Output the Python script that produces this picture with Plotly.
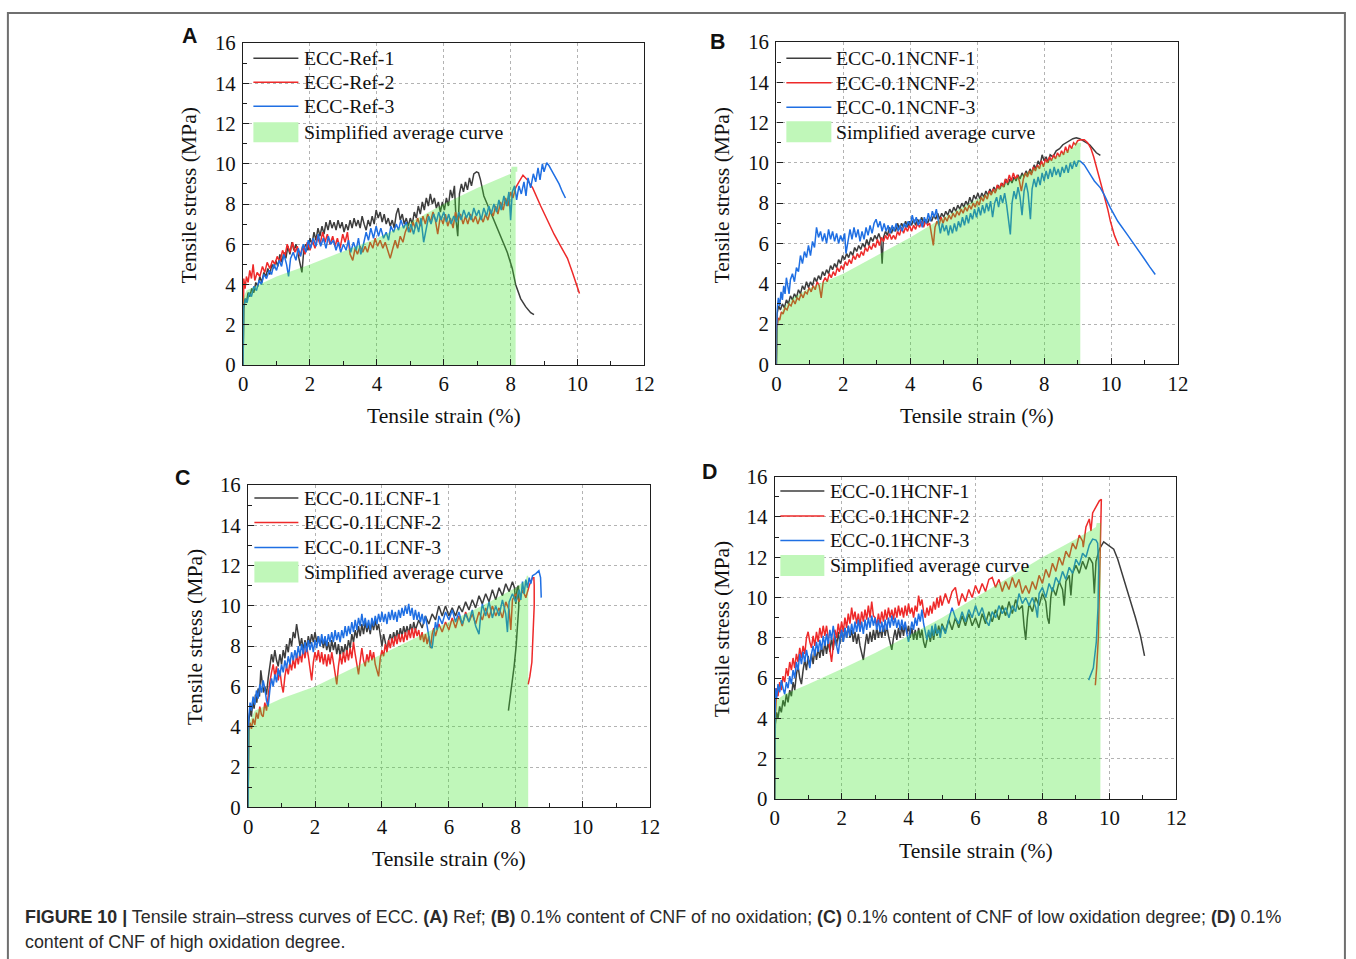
import plotly.graph_objects as go

W, H = 1356, 959

# ---------------- data (strain %, stress MPa) ----------------
A_REF1 = [(0,0),(0.02,2.8),(0.06,3.3),(0.1,3.1),(0.15,3.6),(0.2,3.4),(0.26,3.8),(0.32,3.6),(0.38,4.1),(0.44,3.9),(0.5,4.4),(0.56,4.1),(0.62,4.6),(0.68,4.4),(0.74,4.8),(0.8,4.5),(0.86,5.0),(0.92,4.8),(0.98,5.2),(1.04,4.9),(1.1,5.5),(1.16,5.1),(1.22,5.6),(1.28,5.3),(1.34,5.9),(1.4,5.5),(1.46,6.1),(1.52,5.7),(1.58,6.0),(1.64,5.5),(1.7,5.1),(1.76,4.6),(1.82,5.8),(1.88,6.0),(1.94,5.7),(2.0,6.3),(2.06,6.0),(2.12,6.6),(2.18,6.2),(2.24,6.8),(2.3,6.4),(2.36,6.9),(2.42,6.5),(2.48,7.1),(2.54,6.7),(2.6,7.2),(2.66,6.8),(2.72,7.1),(2.78,6.7),(2.84,7.2),(2.9,6.8),(2.96,7.1),(3.02,6.6),(3.08,7.0),(3.14,6.7),(3.2,7.2),(3.26,6.8),(3.32,7.3),(3.38,6.9),(3.44,7.2),(3.5,6.8),(3.56,7.4),(3.62,7.0),(3.68,6.7),(3.74,7.2),(3.8,6.9),(3.86,7.4),(3.92,7.0),(3.98,7.7),(4.04,7.3),(4.1,7.6),(4.16,7.1),(4.22,7.5),(4.28,7.0),(4.34,7.3),(4.4,6.9),(4.46,7.2),(4.52,6.8),(4.58,7.5),(4.64,7.8),(4.7,7.2),(4.76,7.5),(4.82,7.0),(4.88,7.3),(4.94,6.9),(5.0,7.3),(5.06,7.0),(5.12,7.6),(5.18,7.3),(5.24,7.9),(5.3,7.5),(5.36,8.1),(5.42,7.7),(5.48,8.3),(5.54,7.9),(5.6,8.5),(5.66,8.0),(5.72,8.3),(5.78,7.8),(5.84,8.1),(5.9,7.6),(5.96,8.1),(6.02,7.7),(6.08,8.3),(6.14,7.9),(6.2,8.7),(6.26,8.3),(6.32,8.9),(6.37,7.2),(6.42,6.4),(6.47,8.5),(6.53,9.0),(6.59,8.6),(6.65,9.1),(6.71,8.7),(6.77,9.3),(6.83,8.9),(6.9,9.5),(6.98,9.6),(7.04,9.55),(7.1,9.2),(7.2,8.4),(7.3,8.0),(7.5,7.2),(7.7,6.4),(7.9,5.6),(8.05,4.8),(8.15,4.0),(8.3,3.3),(8.45,2.9),(8.6,2.6),(8.7,2.5)]
A_REF2 = [(0,0),(0.02,4.3),(0.06,3.8),(0.1,4.4),(0.15,4.1),(0.2,4.7),(0.25,4.3),(0.3,5.0),(0.35,4.2),(0.42,4.6),(0.5,4.4),(0.58,4.9),(0.65,4.6),(0.72,5.1),(0.8,4.8),(0.88,5.2),(0.95,5.0),(1.02,5.4),(1.1,5.1),(1.18,5.7),(1.25,5.4),(1.32,6.0),(1.4,5.6),(1.48,6.1),(1.55,5.6),(1.62,5.9),(1.7,5.4),(1.78,5.9),(1.85,5.5),(1.92,6.1),(2.0,5.7),(2.07,6.2),(2.15,5.8),(2.22,6.4),(2.3,6.0),(2.38,6.6),(2.45,6.1),(2.52,6.5),(2.6,6.0),(2.68,6.4),(2.75,5.9),(2.82,6.3),(2.9,5.8),(2.98,6.5),(3.05,6.1),(3.12,6.6),(3.2,5.5),(3.28,5.2),(3.35,5.8),(3.42,5.5),(3.5,5.9),(3.58,5.6),(3.65,5.9),(3.72,5.6),(3.8,6.1),(3.88,5.8),(3.95,6.3),(4.02,5.9),(4.1,6.2),(4.18,5.8),(4.25,6.1),(4.33,5.6),(4.4,5.3),(4.48,5.8),(4.55,6.2),(4.62,5.8),(4.7,6.4),(4.78,6.1),(4.85,6.6),(4.92,6.9),(5.0,6.6),(5.08,7.1),(5.15,6.8),(5.22,7.3),(5.3,6.9),(5.38,7.4),(5.45,7.0),(5.52,7.5),(5.6,7.1),(5.68,7.6),(5.75,7.2),(5.82,6.5),(5.9,7.4),(5.98,7.0),(6.05,7.5),(6.12,6.9),(6.2,7.3),(6.28,6.8),(6.35,7.6),(6.42,7.2),(6.5,7.5),(6.58,7.0),(6.65,7.4),(6.72,7.0),(6.8,7.5),(6.88,7.1),(6.95,7.4),(7.02,7.0),(7.1,7.4),(7.18,7.1),(7.25,7.5),(7.32,7.2),(7.4,7.7),(7.48,7.4),(7.55,7.9),(7.62,7.5),(7.7,8.1),(7.78,7.7),(7.85,8.3),(7.92,7.9),(8.0,8.6),(8.07,8.3),(8.15,8.8),(8.25,9.1),(8.37,9.43),(8.5,9.2),(8.66,8.8),(8.9,7.9),(9.1,7.2),(9.3,6.5),(9.5,5.9),(9.7,5.3),(9.85,4.6),(10.0,3.9),(10.06,3.55)]
A_REF3 = [(0,0),(0.02,2.9),(0.07,3.3),(0.12,3.1),(0.18,3.6),(0.25,3.4),(0.32,3.9),(0.4,3.7),(0.48,4.2),(0.55,4.0),(0.62,4.5),(0.7,4.3),(0.78,4.7),(0.85,4.5),(0.92,5.0),(1.0,4.7),(1.08,5.2),(1.15,4.9),(1.22,5.5),(1.3,5.0),(1.36,4.4),(1.42,5.3),(1.5,5.6),(1.58,5.2),(1.65,5.8),(1.72,5.4),(1.8,6.0),(1.88,5.6),(1.95,6.2),(2.02,5.8),(2.1,6.3),(2.18,5.9),(2.25,6.5),(2.32,5.9),(2.4,6.3),(2.48,5.8),(2.55,6.4),(2.62,6.0),(2.7,6.2),(2.78,5.7),(2.85,6.1),(2.92,5.6),(3.0,6.0),(3.08,5.7),(3.15,6.2),(3.22,5.6),(3.3,6.1),(3.38,5.7),(3.45,6.3),(3.52,5.5),(3.6,6.0),(3.68,6.6),(3.75,6.2),(3.82,6.8),(3.9,6.3),(3.98,6.9),(4.05,6.4),(4.12,6.8),(4.2,6.3),(4.28,6.6),(4.35,6.2),(4.42,6.9),(4.5,6.6),(4.58,7.0),(4.65,6.7),(4.72,7.2),(4.8,6.8),(4.88,7.1),(4.95,6.6),(5.02,7.0),(5.1,6.5),(5.18,7.1),(5.25,6.6),(5.32,7.3),(5.4,6.1),(5.48,6.9),(5.55,7.4),(5.62,7.0),(5.7,7.5),(5.78,7.1),(5.85,7.6),(5.92,7.2),(6.0,7.6),(6.08,7.1),(6.15,7.5),(6.22,7.0),(6.3,7.4),(6.38,7.1),(6.45,7.6),(6.52,7.2),(6.6,7.7),(6.68,7.3),(6.75,7.6),(6.82,7.2),(6.9,7.8),(6.98,7.4),(7.05,7.7),(7.12,7.2),(7.2,7.8),(7.28,7.4),(7.35,7.9),(7.42,7.5),(7.5,8.0),(7.58,7.6),(7.65,8.2),(7.72,7.7),(7.8,8.4),(7.88,7.9),(7.95,8.6),(8.0,7.2),(8.05,8.6),(8.12,8.9),(8.18,8.2),(8.25,8.9),(8.32,8.5),(8.4,9.1),(8.46,8.4),(8.52,9.3),(8.6,8.8),(8.68,9.5),(8.75,9.1),(8.82,9.8),(8.88,9.2),(8.95,10.0),(9.0,9.6),(9.08,10.05),(9.15,9.9),(9.25,9.6),(9.35,9.3),(9.45,9.0),(9.55,8.6),(9.64,8.3)]
A_AVG = [(0,0),(0,3.3),(0.1,3.7),(0.5,4.0),(1,4.4),(2,5.0),(3,5.65),(4,6.3),(5,7.1),(6,8.0),(7,8.8),(8,9.5),(8.03,9.85),(8.2,9.85),(8.2,9.6),(8.15,9.6),(8.15,0)]

B_N1 = [(0,0),(0.02,2.5),(0.07,2.9),(0.12,2.7),(0.18,3.0),(0.24,2.8),(0.3,3.2),(0.36,3.0),(0.42,3.4),(0.48,3.2),(0.54,3.5),(0.6,3.3),(0.66,3.7),(0.72,3.5),(0.78,3.9),(0.84,3.7),(0.9,4.1),(0.96,3.8),(1.02,4.1),(1.08,3.9),(1.14,4.3),(1.2,4.1),(1.26,4.4),(1.32,4.2),(1.38,4.6),(1.44,4.4),(1.5,4.7),(1.56,4.5),(1.62,4.9),(1.68,4.7),(1.74,5.0),(1.8,4.8),(1.86,5.2),(1.92,5.0),(1.98,5.4),(2.04,5.2),(2.1,5.5),(2.16,5.3),(2.22,5.6),(2.28,5.4),(2.34,5.8),(2.4,5.6),(2.46,5.9),(2.52,5.7),(2.58,6.0),(2.64,5.8),(2.7,6.2),(2.76,5.9),(2.82,6.3),(2.88,6.1),(2.94,6.4),(3.0,6.2),(3.06,6.5),(3.12,6.2),(3.16,5.0),(3.2,6.3),(3.26,6.6),(3.32,6.4),(3.38,6.8),(3.44,6.5),(3.5,6.8),(3.56,6.6),(3.62,7.0),(3.68,6.7),(3.74,7.0),(3.8,6.8),(3.86,7.1),(3.92,6.8),(3.98,7.1),(4.04,6.9),(4.1,7.2),(4.16,6.9),(4.22,7.2),(4.28,7.0),(4.34,7.3),(4.4,7.0),(4.46,7.2),(4.52,7.0),(4.58,7.3),(4.64,7.1),(4.7,7.4),(4.76,7.2),(4.82,7.5),(4.88,7.2),(4.94,7.5),(5.0,7.3),(5.06,7.6),(5.12,7.4),(5.18,7.7),(5.24,7.5),(5.3,7.8),(5.36,7.6),(5.42,7.9),(5.48,7.7),(5.54,8.0),(5.6,7.8),(5.66,8.1),(5.72,7.9),(5.78,8.3),(5.84,8.0),(5.9,8.4),(5.96,8.2),(6.02,8.5),(6.08,8.2),(6.14,8.5),(6.2,8.3),(6.26,8.6),(6.32,8.4),(6.38,8.7),(6.44,8.5),(6.5,8.8),(6.56,8.6),(6.62,8.9),(6.68,8.7),(6.74,9.0),(6.8,8.8),(6.86,9.2),(6.92,8.9),(6.98,9.2),(7.04,9.0),(7.1,9.3),(7.16,9.1),(7.22,9.4),(7.28,9.2),(7.34,9.5),(7.4,9.3),(7.46,9.6),(7.52,9.4),(7.58,9.7),(7.64,9.5),(7.7,9.9),(7.76,9.7),(7.82,10.1),(7.88,9.9),(7.94,10.4),(8.0,10.1),(8.06,10.3),(8.12,10.0),(8.18,10.4),(8.26,10.3),(8.36,10.6),(8.46,10.7),(8.56,10.9),(8.66,11.0),(8.76,11.1),(8.86,11.2),(8.96,11.25),(9.06,11.2),(9.16,11.1),(9.26,11.0),(9.36,10.9),(9.46,10.7),(9.56,10.5),(9.68,10.37)]
B_N2 = [(0,0),(0.02,1.8),(0.06,2.3),(0.1,2.2),(0.15,2.6),(0.2,2.5),(0.26,2.8),(0.32,2.7),(0.38,3.0),(0.44,2.9),(0.5,3.2),(0.56,3.0),(0.62,3.3),(0.68,3.2),(0.74,3.5),(0.8,3.3),(0.86,3.6),(0.92,3.5),(0.98,3.8),(1.04,3.6),(1.1,3.9),(1.16,3.7),(1.22,4.1),(1.28,3.9),(1.34,3.3),(1.4,4.1),(1.46,4.3),(1.52,4.1),(1.58,4.5),(1.64,4.3),(1.7,4.6),(1.76,4.4),(1.82,4.8),(1.88,4.6),(1.94,4.9),(2.0,4.7),(2.06,5.1),(2.12,4.9),(2.18,5.2),(2.24,5.0),(2.3,5.4),(2.36,5.2),(2.42,5.5),(2.48,5.3),(2.54,5.6),(2.6,5.4),(2.66,5.8),(2.72,5.6),(2.78,5.9),(2.84,5.7),(2.9,6.0),(2.96,5.8),(3.02,6.2),(3.08,5.9),(3.14,6.3),(3.2,6.1),(3.26,6.4),(3.32,6.2),(3.38,6.5),(3.44,6.2),(3.5,6.4),(3.56,6.2),(3.62,6.6),(3.68,6.4),(3.74,6.8),(3.8,6.5),(3.86,6.8),(3.92,6.6),(3.98,6.9),(4.04,6.6),(4.1,6.9),(4.16,6.7),(4.22,7.0),(4.28,6.8),(4.34,7.1),(4.4,6.8),(4.46,7.1),(4.52,6.9),(4.58,7.0),(4.64,6.4),(4.69,5.9),(4.74,6.8),(4.8,7.1),(4.86,6.9),(4.92,7.3),(4.98,7.0),(5.04,7.3),(5.1,7.1),(5.16,7.4),(5.22,7.2),(5.28,7.5),(5.34,7.3),(5.4,7.6),(5.46,7.4),(5.52,7.7),(5.58,7.5),(5.64,7.8),(5.7,7.6),(5.76,7.9),(5.82,7.7),(5.88,8.0),(5.94,7.8),(6.0,8.1),(6.06,7.9),(6.12,8.3),(6.18,8.1),(6.24,8.4),(6.3,8.2),(6.36,8.6),(6.42,8.4),(6.48,8.7),(6.54,8.5),(6.6,8.9),(6.66,8.7),(6.72,9.0),(6.78,8.8),(6.84,9.2),(6.9,9.0),(6.96,9.4),(7.02,9.1),(7.08,9.5),(7.14,9.2),(7.2,9.4),(7.26,9.1),(7.32,8.6),(7.38,9.2),(7.44,9.5),(7.5,9.3),(7.56,9.6),(7.62,9.4),(7.68,9.8),(7.74,9.6),(7.8,9.9),(7.86,9.7),(7.92,10.1),(7.98,9.8),(8.04,10.2),(8.1,10.0),(8.16,10.3),(8.22,10.1),(8.28,10.4),(8.34,10.2),(8.4,10.5),(8.46,10.3),(8.52,10.6),(8.58,10.4),(8.64,10.8),(8.7,10.5),(8.76,10.9),(8.82,10.7),(8.88,11.0),(8.94,10.9),(9.0,11.1),(9.1,11.15),(9.2,11.15),(9.3,11.0),(9.4,10.7),(9.48,10.3),(9.6,9.6),(9.7,8.9),(9.78,8.45),(9.9,7.7),(9.98,7.1),(10.1,6.4),(10.23,5.87)]
B_N3 = [(0,0),(0.02,2.7),(0.06,3.3),(0.1,2.9),(0.14,3.6),(0.18,3.2),(0.22,3.9),(0.26,3.5),(0.3,4.3),(0.34,3.9),(0.38,3.5),(0.42,4.2),(0.48,4.5),(0.54,4.1),(0.6,4.8),(0.66,4.6),(0.72,5.4),(0.78,5.0),(0.84,5.6),(0.9,5.3),(0.96,5.9),(1.02,5.4),(1.08,6.1),(1.14,5.8),(1.2,6.8),(1.26,6.3),(1.32,6.6),(1.38,6.1),(1.44,6.5),(1.5,6.0),(1.56,6.7),(1.62,6.2),(1.68,6.6),(1.74,6.1),(1.8,6.5),(1.86,6.0),(1.92,6.4),(1.98,6.1),(2.04,6.5),(2.08,5.5),(2.14,6.2),(2.2,6.7),(2.26,6.2),(2.32,6.8),(2.38,6.3),(2.44,6.7),(2.5,6.1),(2.56,6.6),(2.62,6.2),(2.68,6.8),(2.74,6.4),(2.8,6.9),(2.86,6.5),(2.92,7.0),(2.98,7.2),(3.04,6.8),(3.1,7.1),(3.16,6.6),(3.22,7.0),(3.28,6.6),(3.34,6.9),(3.4,6.5),(3.46,6.9),(3.52,6.6),(3.58,7.0),(3.64,6.6),(3.7,6.9),(3.76,6.6),(3.82,7.0),(3.88,6.8),(3.94,7.1),(4.0,6.9),(4.06,7.4),(4.12,7.0),(4.18,7.3),(4.24,6.9),(4.3,7.2),(4.36,6.8),(4.42,7.3),(4.48,7.0),(4.54,7.5),(4.6,7.1),(4.66,7.6),(4.72,7.3),(4.78,7.7),(4.84,7.0),(4.9,6.5),(4.96,7.0),(5.02,6.6),(5.08,6.9),(5.14,6.4),(5.2,6.9),(5.26,6.5),(5.32,7.0),(5.38,6.6),(5.44,7.1),(5.5,6.8),(5.56,7.3),(5.62,6.9),(5.68,7.4),(5.74,7.0),(5.8,7.5),(5.86,7.2),(5.92,7.7),(5.98,7.3),(6.04,7.8),(6.1,7.4),(6.16,7.9),(6.22,7.5),(6.28,8.0),(6.34,7.6),(6.4,8.1),(6.46,7.3),(6.52,8.0),(6.58,8.3),(6.64,7.8),(6.7,8.4),(6.76,8.0),(6.82,8.5),(6.88,7.9),(6.94,7.0),(6.99,6.45),(7.04,8.0),(7.1,8.6),(7.16,8.2),(7.22,8.8),(7.28,8.3),(7.34,7.4),(7.4,8.6),(7.46,9.0),(7.52,8.5),(7.56,7.8),(7.59,7.2),(7.64,8.7),(7.7,9.2),(7.76,8.8),(7.82,9.3),(7.88,8.9),(7.94,9.5),(8.0,9.1),(8.06,9.6),(8.12,9.2),(8.18,9.7),(8.24,9.3),(8.3,9.8),(8.36,9.4),(8.42,9.7),(8.48,9.3),(8.54,9.8),(8.6,9.5),(8.66,9.9),(8.72,9.5),(8.78,10.0),(8.84,9.7),(8.9,10.1),(8.96,9.8),(9.02,10.1),(9.08,10.08),(9.2,9.9),(9.38,9.42),(9.5,9.1),(9.68,8.76),(9.8,8.4),(9.98,7.77),(10.2,7.1),(10.48,6.45),(10.7,5.9),(10.97,5.29),(11.15,4.85),(11.32,4.46)]
B_AVG = [(0,0),(0,1.5),(0.05,2.2),(0.2,2.8),(0.5,3.3),(1,3.8),(2,4.5),(3,5.4),(4,6.3),(5,7.3),(6,8.2),(7,9.1),(8,10.0),(8.9,10.8),(8.92,11.0),(9.1,11.0),(9.1,10.8),(9.08,10.8),(9.08,0)]

C_L1 = [(0,0),(0.02,4.2),(0.06,4.9),(0.1,4.5),(0.14,5.3),(0.18,4.9),(0.22,5.6),(0.26,5.2),(0.3,5.9),(0.34,5.5),(0.38,6.8),(0.42,6.2),(0.46,5.7),(0.5,6.0),(0.55,5.6),(0.6,6.4),(0.65,7.0),(0.7,7.6),(0.75,7.2),(0.8,7.8),(0.85,7.3),(0.9,7.0),(0.95,7.6),(1.0,7.1),(1.05,7.8),(1.1,7.4),(1.15,8.1),(1.2,7.7),(1.25,8.4),(1.3,8.0),(1.35,8.7),(1.4,8.4),(1.45,9.1),(1.5,8.6),(1.55,8.0),(1.6,8.4),(1.65,7.8),(1.7,8.3),(1.75,7.9),(1.8,8.5),(1.85,8.1),(1.9,8.6),(1.95,8.2),(2.0,8.7),(2.05,8.2),(2.1,8.5),(2.15,8.0),(2.2,8.4),(2.25,7.9),(2.3,8.3),(2.35,7.8),(2.4,8.2),(2.45,7.7),(2.5,8.3),(2.55,7.8),(2.6,8.2),(2.65,7.6),(2.7,8.1),(2.75,7.5),(2.8,8.0),(2.85,7.6),(2.9,8.1),(2.95,7.7),(3.0,8.3),(3.05,7.9),(3.1,8.6),(3.15,8.2),(3.2,8.8),(3.25,8.4),(3.3,9.0),(3.35,8.5),(3.4,9.1),(3.45,8.6),(3.5,9.2),(3.55,8.7),(3.6,9.1),(3.65,8.6),(3.7,9.2),(3.75,8.8),(3.8,9.3),(3.85,8.8),(3.9,9.1),(3.95,8.5),(4.0,8.0),(4.05,8.6),(4.1,8.2),(4.15,7.8),(4.2,8.3),(4.25,8.6),(4.3,8.2),(4.35,8.7),(4.4,8.3),(4.45,8.8),(4.5,8.4),(4.55,8.9),(4.6,8.5),(4.65,9.0),(4.7,8.6),(4.75,9.0),(4.8,8.6),(4.85,9.1),(4.9,8.7),(4.95,9.2),(5.0,8.8),(5.1,9.3),(5.2,8.9),(5.3,9.5),(5.4,9.1),(5.5,9.6),(5.6,9.3),(5.7,10.0),(5.8,9.5),(5.9,10.0),(6.0,9.5),(6.1,9.9),(6.2,9.5),(6.3,10.0),(6.4,9.7),(6.5,10.2),(6.6,9.8),(6.7,10.3),(6.8,9.9),(6.9,10.5),(7.0,10.1),(7.1,10.6),(7.2,10.2),(7.3,10.8),(7.4,10.3),(7.5,10.9),(7.6,10.5),(7.7,11.1),(7.8,10.7),(7.9,11.2),(7.96,10.9),(8.0,10.1),(8.04,10.9),(8.08,11.0),(8.09,10.0),(8.06,9.0),(8.01,8.0),(7.95,7.0),(7.88,6.0),(7.78,4.8)]
C_L2 = [(0,0),(0.02,3.8),(0.06,4.2),(0.1,3.9),(0.15,4.4),(0.2,4.1),(0.25,4.7),(0.3,4.4),(0.35,5.0),(0.4,4.6),(0.45,4.5),(0.5,5.2),(0.55,4.8),(0.6,5.6),(0.65,6.2),(0.7,6.7),(0.75,7.1),(0.8,6.5),(0.85,7.0),(0.9,6.3),(0.95,6.8),(1.0,6.1),(1.05,5.7),(1.1,6.5),(1.15,7.0),(1.2,6.6),(1.25,7.2),(1.3,6.8),(1.35,7.4),(1.4,6.9),(1.45,7.6),(1.5,7.1),(1.55,7.7),(1.6,7.2),(1.65,7.9),(1.7,7.4),(1.75,8.0),(1.8,7.5),(1.85,6.9),(1.9,6.3),(1.95,7.2),(2.0,7.7),(2.05,7.3),(2.1,7.8),(2.15,7.2),(2.2,7.7),(2.25,7.1),(2.3,7.6),(2.35,7.0),(2.4,7.6),(2.45,7.1),(2.5,7.7),(2.55,7.2),(2.6,6.5),(2.65,6.1),(2.7,7.0),(2.75,7.6),(2.8,7.1),(2.85,7.7),(2.9,7.2),(2.95,7.8),(3.0,7.3),(3.05,7.9),(3.1,7.4),(3.15,8.2),(3.2,7.6),(3.25,7.1),(3.3,6.6),(3.35,7.3),(3.4,7.9),(3.45,7.3),(3.5,7.0),(3.55,7.6),(3.6,7.2),(3.65,7.8),(3.7,7.3),(3.75,7.7),(3.8,7.1),(3.85,6.8),(3.9,6.5),(3.95,7.4),(4.0,7.8),(4.05,7.5),(4.1,8.1),(4.15,7.7),(4.2,8.3),(4.25,7.9),(4.3,8.4),(4.35,8.0),(4.4,8.5),(4.45,8.1),(4.5,8.6),(4.55,8.2),(4.6,8.6),(4.65,8.2),(4.7,8.7),(4.75,8.3),(4.8,8.8),(4.85,8.4),(4.9,8.9),(4.95,8.4),(5.0,8.9),(5.05,8.5),(5.1,8.8),(5.15,8.3),(5.2,8.7),(5.25,8.2),(5.3,8.6),(5.35,8.1),(5.4,8.5),(5.45,7.9),(5.5,8.6),(5.55,8.9),(5.6,8.5),(5.7,9.1),(5.8,8.7),(5.9,9.2),(6.0,8.8),(6.1,9.4),(6.2,8.9),(6.3,9.5),(6.4,9.0),(6.5,9.7),(6.6,9.2),(6.7,9.6),(6.8,9.1),(6.9,9.7),(7.0,9.3),(7.1,9.9),(7.2,9.4),(7.3,10.0),(7.4,9.5),(7.5,9.9),(7.6,9.4),(7.7,10.2),(7.8,9.8),(7.85,8.8),(7.9,10.3),(8.0,10.6),(8.1,10.2),(8.2,10.8),(8.3,10.4),(8.4,11.0),(8.45,11.2),(8.5,11.4),(8.54,11.4),(8.55,11.0),(8.55,10.0),(8.52,8.5),(8.48,7.2),(8.42,6.5),(8.37,6.1)]
C_L3 = [(0,0),(0.02,4.5),(0.06,5.2),(0.1,4.8),(0.15,5.5),(0.2,5.1),(0.25,5.8),(0.3,5.4),(0.35,6.1),(0.4,5.7),(0.45,6.3),(0.5,5.9),(0.55,5.3),(0.6,5.0),(0.65,5.8),(0.7,6.4),(0.75,6.0),(0.8,6.6),(0.85,6.2),(0.9,6.9),(0.95,6.5),(1.0,7.1),(1.05,6.7),(1.1,7.3),(1.15,6.9),(1.2,7.5),(1.25,7.1),(1.3,7.7),(1.35,7.3),(1.4,7.8),(1.45,7.4),(1.5,8.0),(1.55,7.5),(1.6,8.1),(1.65,7.6),(1.7,8.2),(1.75,7.7),(1.8,8.3),(1.85,7.8),(1.9,8.2),(1.95,7.7),(2.0,8.3),(2.05,7.9),(2.1,8.5),(2.15,8.0),(2.2,8.6),(2.25,8.1),(2.3,8.5),(2.35,8.0),(2.4,8.6),(2.45,8.2),(2.5,8.7),(2.55,8.2),(2.6,8.8),(2.65,8.3),(2.7,8.7),(2.75,8.2),(2.8,8.8),(2.85,8.4),(2.9,9.0),(2.95,8.5),(3.0,9.0),(3.05,8.6),(3.1,9.2),(3.15,8.7),(3.2,9.3),(3.25,8.8),(3.3,9.4),(3.35,9.0),(3.4,9.6),(3.45,9.0),(3.5,9.4),(3.55,8.9),(3.6,9.3),(3.65,8.8),(3.7,9.4),(3.75,9.0),(3.8,9.5),(3.85,9.1),(3.9,9.6),(3.95,9.2),(4.0,9.7),(4.05,9.2),(4.1,9.6),(4.15,9.1),(4.2,9.7),(4.25,9.3),(4.3,9.8),(4.35,9.3),(4.4,9.7),(4.45,9.2),(4.5,9.8),(4.55,9.4),(4.6,9.9),(4.65,9.5),(4.7,10.0),(4.75,9.6),(4.8,10.1),(4.85,9.5),(4.9,9.9),(4.95,9.3),(5.0,9.8),(5.05,9.3),(5.1,9.7),(5.15,9.2),(5.2,9.6),(5.25,9.1),(5.3,9.5),(5.35,9.0),(5.4,8.5),(5.45,8.0),(5.5,7.9),(5.55,8.6),(5.6,9.2),(5.65,8.8),(5.7,9.5),(5.8,9.1),(5.9,9.7),(6.0,9.3),(6.1,9.8),(6.2,9.2),(6.3,9.7),(6.4,9.1),(6.5,9.6),(6.6,9.2),(6.7,9.8),(6.8,9.0),(6.9,8.6),(6.95,9.5),(7.0,10.1),(7.1,9.5),(7.2,10.2),(7.3,9.4),(7.4,10.0),(7.5,9.5),(7.6,10.3),(7.7,9.6),(7.75,8.7),(7.8,10.2),(7.9,10.6),(8.0,10.2),(8.1,10.8),(8.15,10.3),(8.2,11.2),(8.25,10.6),(8.3,11.3),(8.35,10.9),(8.4,11.4),(8.45,11.1),(8.5,11.5),(8.6,11.6),(8.69,11.74),(8.74,11.4),(8.76,10.41)]
C_AVG = [(0,0),(0,3.8),(0.05,4.3),(0.2,4.8),(1,5.4),(2,6.0),(3,6.8),(4,7.6),(5,8.4),(6,9.2),(7,10.0),(8,10.9),(8.3,11.3),(8.33,11.5),(8.37,11.5),(8.37,0)]

D_H1 = [(0,0),(0.02,3.7),(0.06,4.3),(0.1,4.0),(0.15,4.6),(0.2,4.3),(0.25,4.9),(0.3,4.6),(0.35,5.2),(0.4,4.8),(0.45,5.4),(0.5,5.1),(0.55,5.8),(0.6,5.4),(0.65,6.2),(0.7,6.6),(0.75,6.0),(0.8,5.7),(0.85,6.4),(0.9,6.9),(0.95,6.4),(1.0,7.1),(1.05,6.6),(1.1,7.2),(1.15,6.7),(1.2,7.4),(1.25,6.9),(1.3,7.5),(1.35,7.0),(1.4,7.6),(1.45,7.1),(1.5,7.8),(1.55,7.2),(1.6,7.8),(1.65,7.3),(1.7,8.0),(1.75,7.4),(1.8,8.1),(1.85,7.6),(1.9,8.3),(1.95,7.7),(2.0,8.4),(2.05,7.8),(2.1,8.5),(2.15,8.0),(2.2,8.6),(2.25,8.0),(2.3,8.4),(2.35,7.8),(2.4,8.3),(2.45,7.7),(2.5,8.2),(2.55,7.6),(2.6,7.2),(2.65,6.9),(2.7,7.6),(2.75,8.2),(2.8,7.7),(2.85,8.3),(2.9,7.8),(2.95,8.4),(3.0,7.9),(3.05,8.5),(3.1,8.0),(3.15,8.5),(3.2,8.0),(3.25,8.6),(3.3,8.1),(3.35,8.6),(3.4,8.1),(3.45,7.7),(3.5,7.4),(3.55,8.0),(3.6,8.4),(3.65,7.9),(3.7,8.5),(3.75,8.0),(3.8,8.6),(3.85,8.1),(3.9,8.7),(3.95,8.2),(4.0,8.6),(4.05,8.0),(4.1,8.5),(4.15,7.9),(4.2,8.4),(4.25,7.9),(4.3,8.5),(4.35,8.0),(4.4,8.4),(4.45,7.8),(4.5,7.5),(4.55,7.9),(4.6,8.3),(4.65,7.8),(4.7,8.4),(4.75,7.9),(4.8,8.5),(4.85,8.1),(4.9,8.6),(4.95,8.2),(5.0,8.7),(5.1,8.3),(5.2,8.9),(5.3,8.4),(5.4,9.0),(5.5,8.5),(5.6,9.1),(5.7,8.6),(5.8,9.2),(5.9,8.6),(6.0,9.0),(6.1,8.5),(6.2,9.2),(6.3,8.7),(6.4,9.3),(6.5,8.8),(6.6,9.4),(6.7,8.9),(6.8,9.6),(6.9,9.1),(7.0,9.8),(7.1,9.2),(7.2,9.9),(7.3,9.4),(7.4,9.6),(7.45,8.6),(7.5,7.9),(7.55,9.0),(7.6,9.7),(7.7,9.3),(7.8,10.0),(7.9,9.6),(8.0,10.2),(8.1,9.8),(8.15,9.0),(8.2,8.7),(8.25,10.0),(8.3,10.5),(8.4,10.1),(8.5,10.8),(8.6,10.4),(8.65,9.6),(8.7,10.8),(8.8,11.1),(8.85,10.1),(8.9,11.2),(9.0,11.6),(9.1,11.2),(9.2,11.8),(9.3,11.4),(9.4,12.0),(9.5,11.7),(9.55,10.2),(9.6,11.8),(9.7,12.4),(9.83,12.76),(9.95,12.6),(10.05,12.5),(10.13,12.4),(10.25,11.9),(10.4,11.1),(10.5,10.6),(10.63,9.92),(10.78,9.0),(10.93,8.1),(11.05,7.1)]
D_H2 = [(0,0),(0.02,4.0),(0.06,5.5),(0.1,5.1),(0.15,5.8),(0.2,5.4),(0.25,6.1),(0.3,5.8),(0.35,6.5),(0.4,6.1),(0.45,6.8),(0.5,6.4),(0.55,7.0),(0.6,6.5),(0.65,7.2),(0.7,6.8),(0.75,7.5),(0.8,7.0),(0.85,7.6),(0.9,7.2),(0.95,8.0),(1.0,8.3),(1.05,7.8),(1.1,7.5),(1.15,8.1),(1.2,7.6),(1.25,8.3),(1.3,7.8),(1.35,8.5),(1.4,8.0),(1.45,8.6),(1.5,8.1),(1.55,8.6),(1.6,7.9),(1.65,7.2),(1.7,6.8),(1.75,7.6),(1.8,8.4),(1.85,8.0),(1.9,8.7),(1.95,8.2),(2.0,8.8),(2.05,8.3),(2.1,9.0),(2.15,8.5),(2.2,9.2),(2.25,8.7),(2.3,9.5),(2.35,8.9),(2.4,9.3),(2.45,8.7),(2.5,9.2),(2.55,8.6),(2.6,9.3),(2.65,8.8),(2.7,9.4),(2.75,8.9),(2.8,9.6),(2.85,9.0),(2.9,9.8),(2.95,9.1),(3.0,9.0),(3.05,8.6),(3.1,9.2),(3.15,8.7),(3.2,9.3),(3.25,8.8),(3.3,9.4),(3.35,8.9),(3.4,9.5),(3.45,9.0),(3.5,9.4),(3.55,8.9),(3.6,9.5),(3.65,9.0),(3.7,9.6),(3.75,9.1),(3.8,9.5),(3.85,9.0),(3.9,9.6),(3.95,9.1),(4.0,9.7),(4.05,9.2),(4.1,9.5),(4.15,9.0),(4.2,9.6),(4.25,9.3),(4.3,10.1),(4.35,9.6),(4.4,9.9),(4.45,9.3),(4.5,9.0),(4.55,9.5),(4.6,9.1),(4.65,9.6),(4.7,9.2),(4.75,9.8),(4.8,9.4),(4.85,10.0),(4.9,9.5),(4.95,10.1),(5.0,9.6),(5.1,10.2),(5.2,9.7),(5.3,10.3),(5.4,10.5),(5.5,9.6),(5.6,10.2),(5.7,9.8),(5.8,10.4),(5.9,10.0),(6.0,10.6),(6.1,10.2),(6.2,10.7),(6.3,10.3),(6.4,10.9),(6.5,11.0),(6.6,10.5),(6.7,10.9),(6.8,10.3),(6.9,10.8),(7.0,10.4),(7.1,11.0),(7.2,10.5),(7.3,10.9),(7.4,10.2),(7.5,10.6),(7.6,10.2),(7.7,10.8),(7.8,10.4),(7.9,11.1),(8.0,10.7),(8.1,11.4),(8.2,11.0),(8.3,11.7),(8.4,11.3),(8.5,12.0),(8.6,11.6),(8.7,12.3),(8.8,12.0),(8.9,12.7),(9.0,12.4),(9.1,13.1),(9.2,12.8),(9.22,12.5),(9.3,13.5),(9.4,13.9),(9.45,13.3),(9.5,14.2),(9.6,14.5),(9.7,14.8),(9.76,14.88),(9.75,14.0),(9.73,12.0),(9.71,10.0),(9.67,8.0),(9.62,6.5),(9.58,5.65)]
D_H3 = [(0,0),(0.02,5.5),(0.06,5.0),(0.1,5.7),(0.15,5.3),(0.2,5.9),(0.25,5.5),(0.3,5.2),(0.35,5.8),(0.4,5.5),(0.45,6.1),(0.5,5.7),(0.55,6.4),(0.6,6.0),(0.65,6.8),(0.7,6.4),(0.75,7.2),(0.8,6.7),(0.85,7.3),(0.9,6.8),(0.95,7.4),(1.0,6.9),(1.05,6.5),(1.1,7.2),(1.15,7.6),(1.2,7.1),(1.25,7.8),(1.3,7.3),(1.35,7.9),(1.4,7.4),(1.45,8.1),(1.5,7.6),(1.55,8.2),(1.6,7.7),(1.65,8.4),(1.7,7.9),(1.75,8.6),(1.8,8.0),(1.85,7.5),(1.9,7.2),(1.95,7.9),(2.0,8.4),(2.05,7.8),(2.1,8.5),(2.15,8.0),(2.2,8.6),(2.25,8.1),(2.3,8.7),(2.35,8.2),(2.4,8.8),(2.45,8.3),(2.5,8.9),(2.55,8.3),(2.6,8.8),(2.65,8.2),(2.7,8.9),(2.75,8.4),(2.8,9.0),(2.85,8.5),(2.9,9.1),(2.95,8.6),(3.0,9.0),(3.05,8.4),(3.1,8.9),(3.15,8.3),(3.2,8.8),(3.25,8.3),(3.3,8.9),(3.35,8.4),(3.4,9.0),(3.45,8.5),(3.5,9.1),(3.55,8.6),(3.6,9.0),(3.65,8.5),(3.7,8.9),(3.75,8.4),(3.8,8.9),(3.85,8.4),(3.9,8.8),(3.95,8.2),(4.0,7.8),(4.05,8.3),(4.1,8.8),(4.15,8.4),(4.2,9.0),(4.25,8.6),(4.3,9.2),(4.35,8.8),(4.4,9.4),(4.45,8.7),(4.5,8.3),(4.55,7.9),(4.6,8.4),(4.65,8.0),(4.7,8.6),(4.75,8.1),(4.8,8.7),(4.85,8.2),(4.9,8.4),(4.95,8.0),(5.0,8.6),(5.1,8.2),(5.2,8.9),(5.3,9.5),(5.4,9.0),(5.5,8.7),(5.6,9.3),(5.7,8.8),(5.8,9.4),(5.9,9.0),(6.0,9.6),(6.1,9.1),(6.2,9.5),(6.3,8.9),(6.4,8.6),(6.5,9.3),(6.6,9.0),(6.7,9.6),(6.8,9.2),(6.9,9.5),(7.0,9.0),(7.1,9.6),(7.2,9.3),(7.3,10.2),(7.4,9.7),(7.5,10.0),(7.6,9.6),(7.7,10.0),(7.8,9.5),(7.85,9.0),(7.9,10.2),(8.0,10.5),(8.1,10.0),(8.2,10.7),(8.3,10.3),(8.4,11.0),(8.5,10.7),(8.6,11.3),(8.7,10.9),(8.8,11.5),(8.9,11.2),(9.0,11.9),(9.1,11.6),(9.2,12.2),(9.3,12.0),(9.4,12.6),(9.5,12.9),(9.6,12.85),(9.65,12.7),(9.68,11.5),(9.66,9.5),(9.61,7.8),(9.52,6.5),(9.38,5.9)]
D_AVG = [(0,0),(0,3.5),(0.05,4.9),(0.3,5.2),(1,5.7),(2,6.45),(3,7.25),(4,8.1),(5,9.0),(6,10.0),(7,11.0),(8,12.0),(9,12.9),(9.6,13.5),(9.62,13.7),(9.75,13.7),(9.73,0)]

PANELS = [
    dict(letter="A", series=[("ECC-Ref-1", A_REF1), ("ECC-Ref-2", A_REF2), ("ECC-Ref-3", A_REF3)], avg=A_AVG),
    dict(letter="B", series=[("ECC-0.1NCNF-1", B_N1), ("ECC-0.1NCNF-2", B_N2), ("ECC-0.1NCNF-3", B_N3)], avg=B_AVG),
    dict(letter="C", series=[("ECC-0.1LCNF-1", C_L1), ("ECC-0.1LCNF-2", C_L2), ("ECC-0.1LCNF-3", C_L3)], avg=C_AVG),
    dict(letter="D", series=[("ECC-0.1HCNF-1", D_H1), ("ECC-0.1HCNF-2", D_H2), ("ECC-0.1HCNF-3", D_H3)], avg=D_AVG),
]
AVG_NAME = "Simplified average curve"
X_TITLE = "Tensile strain (%)"
Y_TITLE = "Tensile stress (MPa)"
CAPTION_1 = ("<b>FIGURE 10 |</b> Tensile strain–stress curves of ECC. <b>(A)</b> Ref; <b>(B)</b> 0.1% content of CNF of no "
             "oxidation; <b>(C)</b> 0.1% content of CNF of low oxidation degree; <b>(D)</b> 0.1%")
CAPTION_2 = "content of CNF of high oxidation degree."

# ---------------- styling / layout ----------------
LINE_COLORS = ["#3d3d3d", "#ee2a2a", "#1f6fe3"]
FILL = "rgba(60,230,40,0.32)"
FILL_SOLID = "#c0f7b9"
SERIF = "Liberation Serif, Times New Roman, serif"
SANS = "Liberation Sans, Arial, sans-serif"

# target positions are given in picture pixels; the page photo is slightly shrunk and offset,
# so map picture pixels -> page pixels
SX, OX, SY, OY = 0.989, 4.6, 0.9757, 10.7
FS = 1.0 / 0.983  # font compensation


def px(x):
    return ((x - OX) / SX) / W


def py(y):
    return 1 - ((y - OY) / SY) / H


# plot boxes: left, right, top, bottom (picture pixels)
BOX = [(242.7, 644.0, 41.7, 364.0), (776.0, 1177.7, 40.7, 363.3),
       (247.7, 649.3, 484.0, 806.7), (774.3, 1176.0, 475.7, 798.3)]
LETTER_POS = [(189, 35), (717, 40.5), (182, 477.5), (709, 471)]
XT_POS = [(444, 415), (977, 415), (449, 858), (976, 850)]
YT_POS = [(189, 194), (722, 194), (194, 636), (721, 628)]
# legend: line x0, x1, row centres y (3 lines), rect y0, y1, text x
LEG = [(253, 298, [57, 81, 105], 121, 141, 302),
       (786, 831, [57, 81.5, 106], 120, 141, 834),
       (254, 298, [497, 521.5, 546.5], 560.5, 581.5, 302),
       (780, 824, [490, 515, 539.5], 554, 575, 828)]

fig = go.Figure()
shapes, annotations = [], []

for i, p in enumerate(PANELS):
    n = "" if i == 0 else str(i + 1)
    xa, ya = "x" + n, "y" + n
    for (name, pts), col in zip(p["series"], LINE_COLORS):
        fig.add_trace(go.Scatter(x=[a for a, b in pts], y=[b for a, b in pts], mode="lines", name=name,
                                 line=dict(color=col, width=1.5), xaxis=xa, yaxis=ya, showlegend=False,
                                 hoverinfo="skip"))
    fig.add_trace(go.Scatter(x=[a for a, b in p["avg"]], y=[b for a, b in p["avg"]], mode="lines",
                             name=AVG_NAME, fill="toself", fillcolor=FILL, line=dict(width=0, color=FILL),
                             xaxis=xa, yaxis=ya, showlegend=False, hoverinfo="skip"))

    l, r, t, b = BOX[i]
    common = dict(showline=True, linecolor="#1e1e1e", linewidth=1.3, mirror=True,
                  ticks="inside", ticklen=6, tickwidth=1.2, tickcolor="#1e1e1e",
                  showgrid=True, gridcolor="#b3b3b3", gridwidth=1, griddash="3px,3px",
                  zeroline=False, fixedrange=True,
                  tickfont=dict(family=SERIF, size=20.5 * FS, color="#111"),
                  minor=dict(ticks="inside", dtick=1, ticklen=4, tickwidth=1.2, tickcolor="#1e1e1e", showgrid=False))
    fig.update_layout(**{
        "xaxis" + n: dict(common, domain=[px(l), px(r)], range=[0, 12], dtick=2, tick0=0, anchor=ya),
        "yaxis" + n: dict(common, domain=[py(b), py(t)], range=[0, 16], dtick=2, tick0=0, anchor=xa,
                          ticklabelstandoff=2),
    })

    lx, ly = LETTER_POS[i]
    annotations.append(dict(text="<b>%s</b>" % p["letter"], x=px(lx), y=py(ly), xref="paper", yref="paper",
                            xanchor="center", yanchor="middle", showarrow=False,
                            font=dict(family=SANS, size=21 * FS, color="#111")))
    tx, ty = XT_POS[i]
    annotations.append(dict(text=X_TITLE, x=px(tx), y=py(ty), xref="paper", yref="paper",
                            xanchor="center", yanchor="middle", showarrow=False,
                            font=dict(family=SERIF, size=21.3 * FS, color="#111")))
    tx, ty = YT_POS[i]
    annotations.append(dict(text=Y_TITLE, x=px(tx), y=py(ty), xref="paper", yref="paper", textangle=-90,
                            xanchor="center", yanchor="middle", showarrow=False,
                            font=dict(family=SERIF, size=21.3 * FS, color="#111")))

    x0, x1, rows, ry0, ry1, txx = LEG[i]
    for (name, _), col, yy in zip(p["series"], LINE_COLORS, rows):
        shapes.append(dict(type="line", xref="paper", yref="paper", x0=px(x0), x1=px(x1), y0=py(yy), y1=py(yy),
                           line=dict(color=col, width=1.5)))
        annotations.append(dict(text=name, x=px(txx), y=py(yy), xref="paper", yref="paper",
                                xanchor="left", yanchor="middle", showarrow=False,
                                font=dict(family=SERIF, size=19.5 * FS, color="#111")))
    shapes.append(dict(type="rect", xref="paper", yref="paper", x0=px(x0), x1=px(x1), y0=py(ry1), y1=py(ry0),
                       fillcolor=FILL_SOLID, line=dict(width=0)))
    annotations.append(dict(text=AVG_NAME, x=px(txx), y=py((ry0 + ry1) / 2), xref="paper", yref="paper",
                            xanchor="left", yanchor="middle", showarrow=False,
                            font=dict(family=SERIF, size=19.5 * FS, color="#111")))

# outer frame (top/right edges kept just inside the page) and caption
shapes.append(dict(type="rect", xref="paper", yref="paper", x0=px(7.5), x1=0.9992, y0=-0.05, y1=0.9988,
                   line=dict(color="#6f6f6f", width=2), fillcolor="rgba(0,0,0,0)"))
annotations.append(dict(text=CAPTION_1, x=px(23), y=py(916.5), xref="paper", yref="paper", xanchor="left",
                        yanchor="middle", showarrow=False, font=dict(family=SANS, size=17.55 * FS, color="#2a2a2a")))
annotations.append(dict(text=CAPTION_2, x=px(23), y=py(941), xref="paper", yref="paper", xanchor="left",
                        yanchor="middle", showarrow=False, font=dict(family=SANS, size=17.55 * FS, color="#2a2a2a")))

fig.update_layout(width=W, height=H, margin=dict(l=0, r=0, t=0, b=0), paper_bgcolor="white",
                  plot_bgcolor="white", showlegend=False, shapes=shapes, annotations=annotations)

fig.write_html("out.html", config={"displayModeBar": False},
               post_script="document.body.style.margin='0';document.body.style.overflow='hidden';")
